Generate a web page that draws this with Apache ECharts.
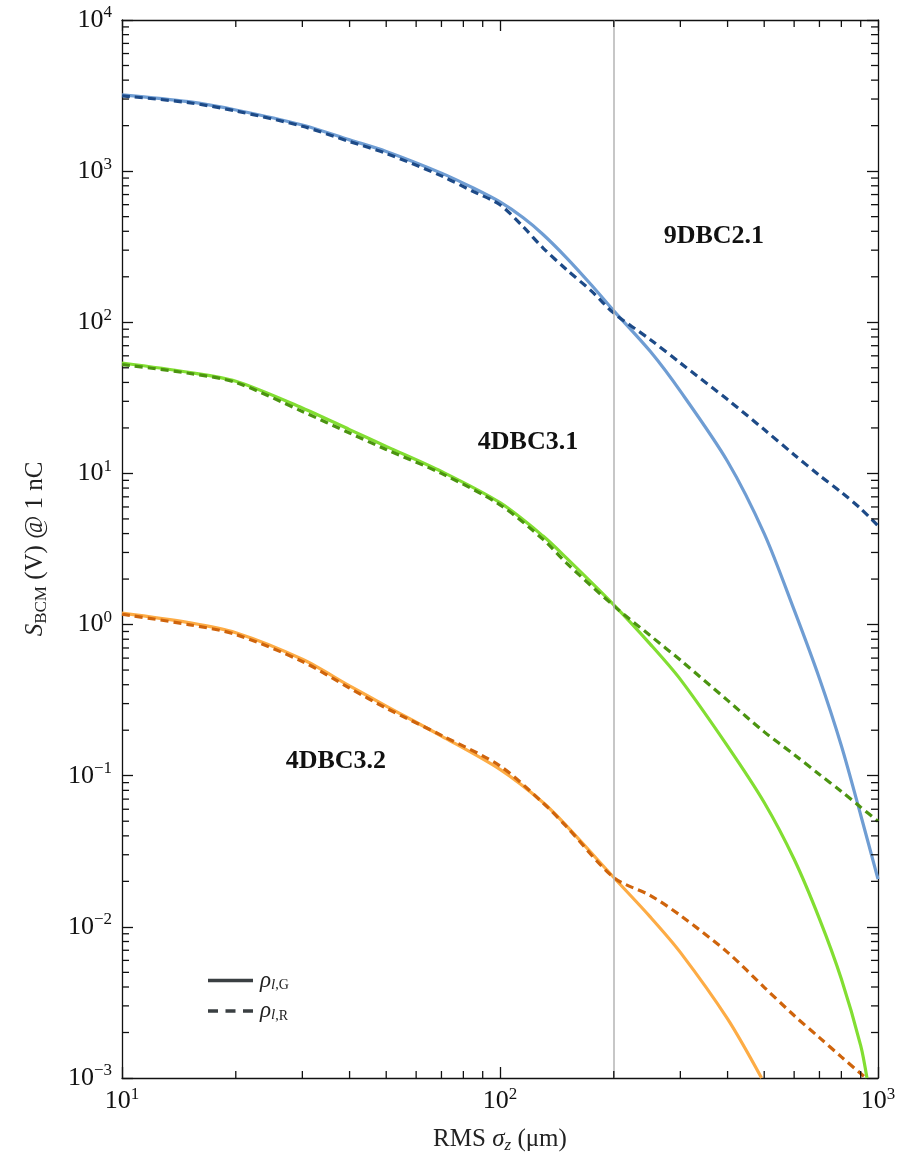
<!DOCTYPE html>
<html>
<head>
<meta charset="utf-8">
<script src="https://cdn.jsdelivr.net/npm/echarts@6/dist/echarts.min.js"></script>
<style>
html,body{margin:0;padding:0;background:#fff;}
#chart{width:899px;height:1166px;}
</style>
</head>
<body>
<div id="chart"></div>
<script>
// ---- data ----
var blueSigma  = [10,15,20,30,40,50,70,85,100,115,130,150,175,200,250,300,400,500,600,700,800,900,1000];
var blueSolid  = [3200,2880,2540,2020,1610,1350,970,773,625,493,381,267,175,119,64,35,12.0,4.0,1.25,0.44,0.158,0.055,0.0207];
var blueDashed = [3150,2840,2500,1980,1570,1310,930,733,599,430,310,223,160,115,76.7,53.8,30.8,19.5,13.3,9.7,7.5,5.85,4.5];
var sigma = [10,15,20,30,40,50,70,100,130,150,200,250,300,400,500,600,700,800,900,1000];
var greenSigma = [10,15,20,30,40,50,70,100,130,150,200,250,300,400,500,600,700,800,900,935];
var greenSolid = [53.8,46.7,40.7,27.1,19.5,15.1,10.3,6.4,3.85,2.75,1.35,0.74,0.434,0.157,0.0665,0.028,0.0113,0.00452,0.00164,0.001];
var greenDashed = [52.5,46,40,25.7,18.5,14.4,10,6.2,3.66,2.55,1.33,0.843,0.582,0.315,0.195,0.138,0.102,0.0787,0.0619,0.050];
var orangeSigma = [10,15,20,30,40,50,70,100,130,150,200,250,300,400,492];
var orangeSolid = [1.19,1.03,0.883,0.589,0.393,0.289,0.183,0.110,0.0665,0.0466,0.0212,0.0116,0.00678,0.00246,0.001];
var orangeDashedSigma = [10,15,20,30,40,50,70,100,130,150,200,250,300,400,500,600,700,800,900,929];
var orangeDashed = [1.17,1.0,0.86,0.57,0.38,0.28,0.185,0.116,0.066,0.046,0.0212,0.0161,0.0119,0.00678,0.00398,0.00259,0.00185,0.00138,0.00107,0.001];
var xTickExponents = [1,2,3];
var yTickExponents = [-3,-2,-1,0,1,2,3,4];
var markerSigma = 200;
var curveLabels = [
  {name:'9DBC2.1', coord:[368,368]},
  {name:'4DBC3.1', coord:[118.6,16.0]},
  {name:'4DBC3.2', coord:[36.8,0.125]}
];
var legendNames = ['rhoG','rhoR'];

// ---- helpers ----
var FONT = "'Liberation Serif','DejaVu Serif',serif";
var xMin = 10, xMax = 1000, yMin = 0.001, yMax = 10000;
function zip(xs, ys){ return xs.map(function(x,i){ return [x, ys[i]]; }); }
function expLabel(exps){
  return function(v){
    var e = Math.round(Math.log10(v));
    if (exps.indexOf(e) < 0) return '';
    return '{b|10}{s|' + (e < 0 ? '\u2212' + (-e) : e) + '}';
  };
}
var labelRich = {
  b:{fontFamily:FONT, fontSize:26, color:'#111'},
  s:{fontFamily:FONT, fontSize:17, color:'#111', verticalAlign:'top', padding:[0,0,14,0]}
};
function minorValues(lo, hi){
  var out = [];
  for (var d = Math.round(Math.log10(lo)); d < Math.round(Math.log10(hi)); d++){
    for (var m = 2; m <= 9; m++) out.push(m * Math.pow(10, d));
  }
  return out;
}
var xMinor = minorValues(xMin, xMax).map(function(v){ return [v, yMin]; });
var yMinor = minorValues(yMin, yMax).map(function(v){ return [xMin, v]; });
var MINOR = 7;
function tickStyle(){ return {stroke:'#111', lineWidth:1.3}; }

var chart = echarts.init(document.getElementById('chart'), null, {renderer:'canvas'});
var lineBase = function(name, data, color, dashed){
  return {
    type:'line', name:name, data:data, showSymbol:false, symbol:'none', smooth:0.3,
    xAxisIndex:0, yAxisIndex:0, clip:true, z: dashed ? 4 : 3,
    lineStyle:{color:color, width:3.2, type: dashed ? [8,5] : 'solid'},
    itemStyle:{color:color}, emphasis:{disabled:true}, legendHoverLink:false
  };
};

var option = {
  animation:false,
  backgroundColor:'#fff',
  grid:{left:122, right:21, top:20, bottom:88, containLabel:false},
  legend:{
    orient:'vertical', left:208, top:969, padding:0, itemWidth:45, itemHeight:3.5, itemGap:7,
    selectedMode:false, symbolKeepAspect:false,
    data:[
      {name:legendNames[0], icon:'path://M0,0h45v3.5h-45z'},
      {name:legendNames[1], icon:'path://M0,0h10v3.5h-10zM17.5,0h10v3.5h-10zM35,0h10v3.5h-10z'}
    ],
    itemStyle:{borderWidth:0},
    formatter:function(n){ return n === 'rhoG' ? '{r|\u03C1}{l|l}{c|,G}' : '{r|\u03C1}{l|l}{c|,R}'; },
    textStyle:{
      fontFamily:FONT, color:'#222', padding:[0,0,0,2],
      rich:{
        r:{fontFamily:FONT, fontSize:23, fontStyle:'italic', color:'#222'},
        l:{fontFamily:FONT, fontSize:15, fontStyle:'italic', color:'#222', verticalAlign:'bottom', padding:[9,0,0,0]},
        c:{fontFamily:FONT, fontSize:14, color:'#222', verticalAlign:'bottom', padding:[9,0,0,0]}
      }
    }
  },
  xAxis:[{
    type:'log', logBase:10, min:xMin, max:xMax, position:'bottom',
    name:'{t|RMS }{g|\u03C3}{z|z}{t| (\u03BCm)}', nameLocation:'middle', nameGap:47,
    nameTextStyle:{rich:{
      t:{fontFamily:FONT, fontSize:25, color:'#222'},
      g:{fontFamily:FONT, fontSize:25, fontStyle:'italic', color:'#222'},
      z:{fontFamily:FONT, fontSize:17, fontStyle:'italic', color:'#222', verticalAlign:'bottom', padding:[12,0,0,0]}
    }},
    axisLine:{show:true, onZero:false, lineStyle:{color:'#111', width:1.3}},
    axisTick:{show:true, inside:true, length:11, lineStyle:{color:'#111', width:1.3}},
    axisLabel:{margin:8, formatter:expLabel(xTickExponents), rich:labelRich, showMinLabel:true, showMaxLabel:true},
    splitLine:{show:false}
  },{
    type:'log', logBase:10, min:xMin, max:xMax, position:'top',
    axisLine:{show:true, onZero:false, lineStyle:{color:'#111', width:1.3}},
    axisTick:{show:true, inside:true, length:11, lineStyle:{color:'#111', width:1.3}},
    axisLabel:{show:false}, splitLine:{show:false}
  }],
  yAxis:[{
    type:'log', logBase:10, min:yMin, max:yMax, position:'left',
    name:'{i|S}{sub|BCM}{t| (V) @ 1 nC}', nameLocation:'middle', nameGap:72, nameRotate:90,
    nameTextStyle:{rich:{
      i:{fontFamily:FONT, fontSize:25, fontStyle:'italic', color:'#222'},
      sub:{fontFamily:FONT, fontSize:17, color:'#222', verticalAlign:'bottom', padding:[12,0,0,0]},
      t:{fontFamily:FONT, fontSize:25, color:'#222'}
    }},
    axisLine:{show:true, onZero:false, lineStyle:{color:'#111', width:1.3}},
    axisTick:{show:true, inside:true, length:11, lineStyle:{color:'#111', width:1.3}},
    axisLabel:{margin:10, formatter:expLabel(yTickExponents), rich:labelRich, showMinLabel:true, showMaxLabel:true},
    splitLine:{show:false}
  },{
    type:'log', logBase:10, min:yMin, max:yMax, position:'right',
    axisLine:{show:true, onZero:false, lineStyle:{color:'#111', width:1.3}},
    axisTick:{show:true, inside:true, length:11, lineStyle:{color:'#111', width:1.3}},
    axisLabel:{show:false}, splitLine:{show:false}
  }],
  series:[
    {
      type:'custom', coordinateSystem:'cartesian2d', xAxisIndex:0, yAxisIndex:0, silent:true, z:10,
      data:xMinor, clip:false,
      renderItem:function(params, api){
        var b = api.coord([api.value(0), yMin]);
        var t = api.coord([api.value(0), yMax]);
        return {type:'group', children:[
          {type:'line', shape:{x1:b[0], y1:b[1], x2:b[0], y2:b[1]-MINOR}, style:tickStyle()},
          {type:'line', shape:{x1:t[0], y1:t[1], x2:t[0], y2:t[1]+MINOR}, style:tickStyle()}
        ]};
      }
    },
    {
      type:'custom', coordinateSystem:'cartesian2d', xAxisIndex:0, yAxisIndex:0, silent:true, z:10,
      data:yMinor, clip:false,
      renderItem:function(params, api){
        var l = api.coord([xMin, api.value(1)]);
        var r = api.coord([xMax, api.value(1)]);
        return {type:'group', children:[
          {type:'line', shape:{x1:l[0], y1:l[1], x2:l[0]+MINOR, y2:l[1]}, style:tickStyle()},
          {type:'line', shape:{x1:r[0], y1:r[1], x2:r[0]-MINOR, y2:r[1]}, style:tickStyle()}
        ]};
      }
    },
    (function(){
      var s = lineBase('blueSolid', zip(blueSigma, blueSolid), '#6f9dd3', false);
      s.markLine = {silent:true, symbol:'none', label:{show:false},
        lineStyle:{color:'#b5b5b5', width:1.5, type:'solid'}, data:[{xAxis:markerSigma}]};
      s.z = 2;
      s.markPoint = {
        symbol:'circle', symbolSize:0, silent:true,
        label:{show:true, position:'inside', fontFamily:FONT, fontSize:26, fontWeight:'bold', color:'#111',
          formatter:function(p){ return p.name; }},
        data:curveLabels.map(function(c){ return {name:c.name, coord:c.coord}; })
      };
      return s;
    })(),
    lineBase('blueDashed', zip(blueSigma, blueDashed), '#1d4a87', true),
    lineBase('greenSolid', zip(greenSigma, greenSolid), '#82de32', false),
    lineBase('greenDashed', zip(sigma, greenDashed), '#4b9410', true),
    lineBase('orangeSolid', zip(orangeSigma, orangeSolid), '#fdac45', false),
    lineBase('orangeDashed', zip(orangeDashedSigma, orangeDashed), '#cf640c', true),
    {type:'line', name:'rhoG', data:[], symbol:'none', lineStyle:{color:'#3a3f42', width:3.5}, itemStyle:{color:'#3a3f42', borderWidth:0}},
    {type:'line', name:'rhoR', data:[], symbol:'none', lineStyle:{color:'#3a3f42', width:3.5}, itemStyle:{color:'#3a3f42', borderWidth:0}}
  ]
};
chart.setOption(option);
</script>
</body>
</html>
